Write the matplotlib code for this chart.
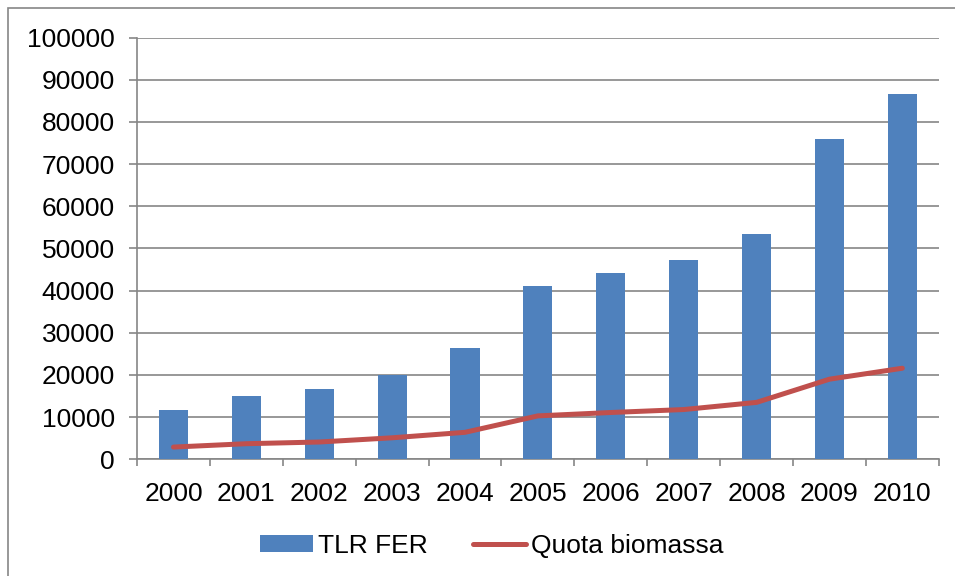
import numpy as np
import matplotlib.pyplot as plt
from matplotlib.patches import Rectangle

years = ["2000", "2001", "2002", "2003", "2004", "2005",
         "2006", "2007", "2008", "2009", "2010"]
tlr_fer = [11700, 15100, 16700, 20000, 26400, 41100,
           44300, 47300, 53400, 75900, 86700]
quota_biomassa = [2900, 3700, 4100, 5100, 6400, 10300,
                  11100, 11800, 13500, 19000, 21600]
y_ticks = [0, 10000, 20000, 30000, 40000, 50000,
           60000, 70000, 80000, 90000, 100000]

plt.rcParams["font.family"] = ["Liberation Sans", "DejaVu Sans"]
plt.rcParams["font.size"] = 19

grey = "#868686"
fig = plt.figure(figsize=(9.55, 5.76), dpi=100)
ax = fig.add_axes([0.1435, 0.2026, 0.8395, 0.732])

x = np.arange(len(years))
bars = ax.bar(x, tlr_fer, width=0.4, color="#4F81BD", label="TLR FER", zorder=3)
line, = ax.plot(x, quota_biomassa, color="#C0504D", lw=3.6, solid_capstyle="round",
                label="Quota biomassa", zorder=4)

ax.set_xlim(-0.5, len(years) - 0.5)
ax.set_ylim(0, 100000)
ax.set_yticks(y_ticks)
ax.set_yticklabels([str(v) for v in y_ticks])
ax.yaxis.grid(True, color=grey, lw=1.2, zorder=0)
ax.tick_params(axis="y", length=6, color=grey, width=1.2, pad=10)

ax.set_xticks(x)
ax.set_xticklabels(years)
ax.tick_params(axis="x", which="major", length=0, pad=16)
ax.set_xticks(np.arange(len(years) + 1) - 0.5, minor=True)
ax.tick_params(axis="x", which="minor", length=5, color=grey, width=1.2)

for side in ["top", "right"]:
    ax.spines[side].set_visible(False)
for side in ["left", "bottom"]:
    ax.spines[side].set_color(grey)
    ax.spines[side].set_linewidth(1.2)

fig.legend([bars, line], ["TLR FER", "Quota biomassa"],
           loc="center", bbox_to_anchor=(0.515, 0.052), ncol=2, frameon=False,
           handlelength=2.0, handletextpad=0.2, columnspacing=1.7,
           handleheight=0.6)

fig.patches.append(Rectangle((8 / 955, -0.1), 1.2, 1.1 - 8 / 576,
                             transform=fig.transFigure, fill=False,
                             edgecolor=grey, lw=1.2))

plt.savefig("out.png", dpi=100)
plt.close()
